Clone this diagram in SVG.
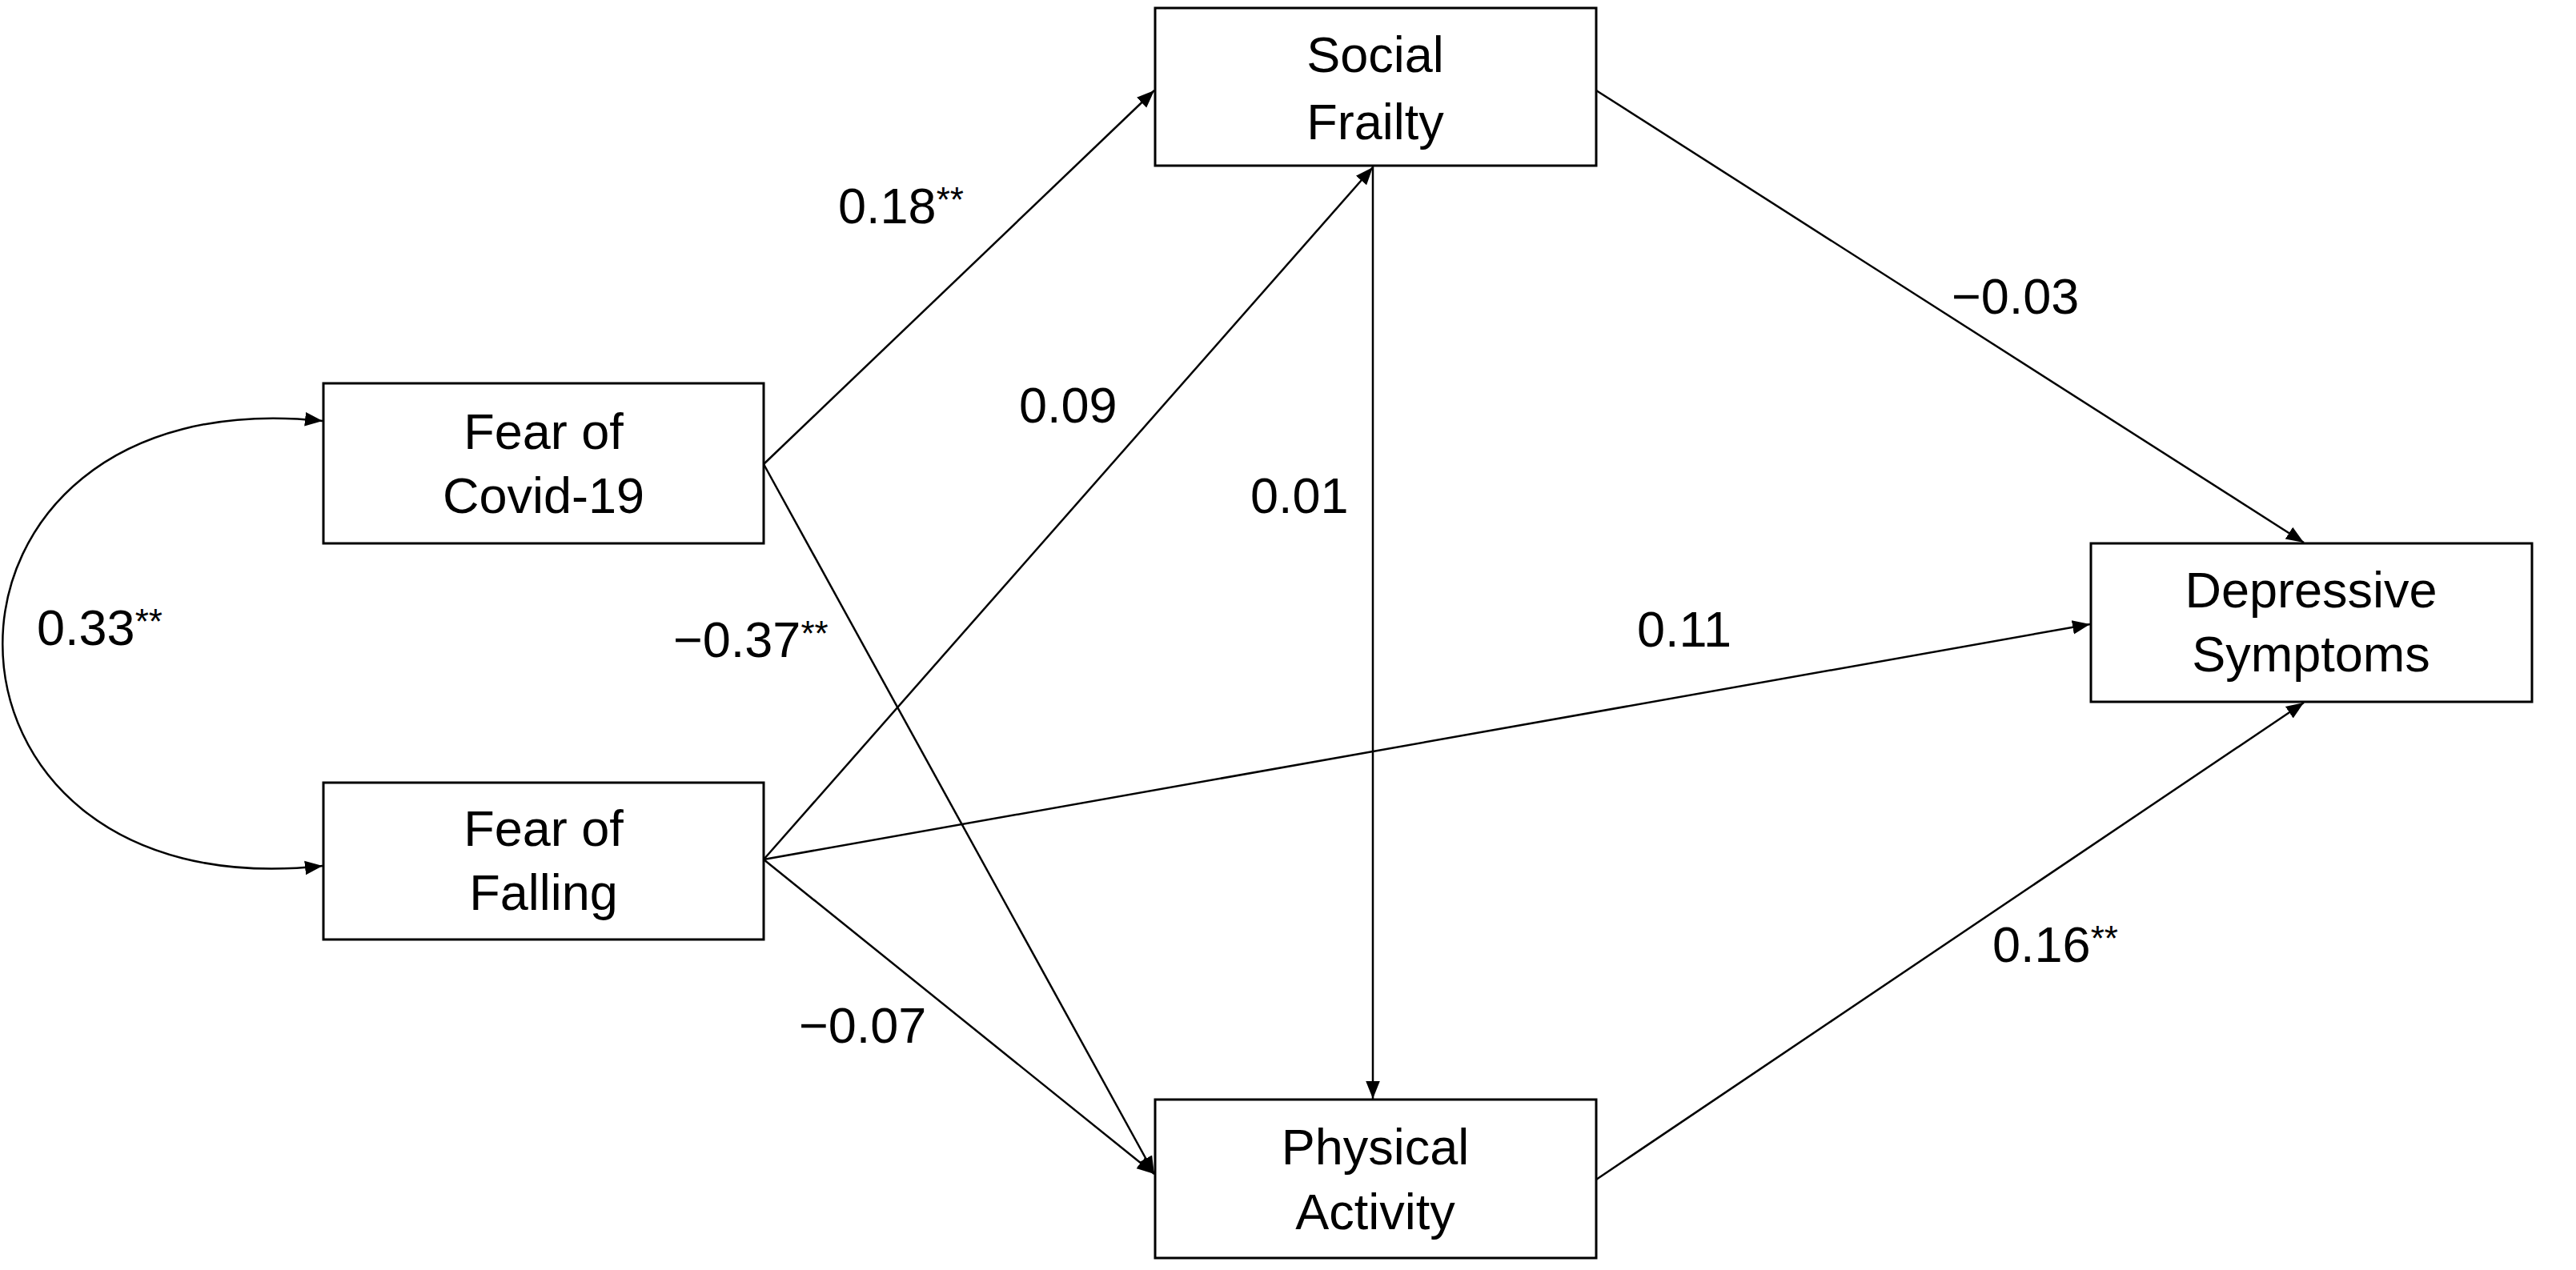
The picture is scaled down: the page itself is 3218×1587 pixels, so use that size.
<svg xmlns="http://www.w3.org/2000/svg" width="3218" height="1587" viewBox="0 0 3218 1587">
<style>
.box{fill:#fff;stroke:#000;stroke-width:3}
.t{font-family:"Liberation Sans",Arial,sans-serif;font-size:63px;fill:#000;text-anchor:middle}
.l{font-family:"Liberation Sans",Arial,sans-serif;font-size:63px;fill:#000}
.s{font-size:44px}
.c{fill:none;stroke:#000;stroke-width:2.5}
</style>
<defs>
<marker id="b" viewBox="0 0 10 10" refX="10" refY="5" markerWidth="22" markerHeight="22" markerUnits="userSpaceOnUse" orient="auto-start-reverse"><path d="M0,1 L10,5 L0,9 z" fill="#000"/></marker></defs>
<rect width="3218" height="1587" fill="#fff"/>
<g id="connectors">
<path class="c" marker-end="url(#b)" d="M954,580 L1442,113"/>
<path class="c" marker-end="url(#b)" d="M954,580 L1442,1467"/>
<path class="c" marker-end="url(#b)" d="M954,1074 L1715,209"/>
<path class="c" marker-end="url(#b)" d="M954,1074 L2611,780"/>
<path class="c" marker-end="url(#b)" d="M954,1074 L1442,1467"/>
<path class="c" marker-end="url(#b)" d="M1715,208 L1715,1373"/>
<path class="c" marker-end="url(#b)" d="M1994,113 L2878,678"/>
<path class="c" marker-end="url(#b)" d="M1994,1474 L2878,878"/>
<path class="c" marker-start="url(#b)" marker-end="url(#b)" d="M403,526 C-130,470 -130,1140 403,1082"/>
</g>
<g id="n1"><rect class="box" x="404" y="479" width="550" height="200"/><text class="t" x="679" y="561">Fear of</text><text class="t" x="679" y="641">Covid-19</text></g>
<g id="n2"><rect class="box" x="404" y="978" width="550" height="196"/><text class="t" x="679" y="1057">Fear of</text><text class="t" x="679" y="1137">Falling</text></g>
<g id="n3"><rect class="box" x="1443" y="10" width="551" height="197"/><text class="t" x="1718" y="90">Social</text><text class="t" x="1718" y="174">Frailty</text></g>
<g id="n4"><rect class="box" x="1443" y="1374" width="551" height="198"/><text class="t" x="1718" y="1455">Physical</text><text class="t" x="1718" y="1536">Activity</text></g>
<g id="n5"><rect class="box" x="2612" y="679" width="551" height="198"/><text class="t" x="2887" y="759">Depressive</text><text class="t" x="2887" y="839">Symptoms</text></g>
<g id="labels">
<text class="l" x="1047" y="279">0.18<tspan class="s" dy="-14">**</tspan></text>
<text class="l" x="1273" y="528">0.09</text>
<text class="l" x="1562" y="641">0.01</text>
<text class="l" x="841" y="821">−0.37<tspan class="s" dy="-14">**</tspan></text>
<text class="l" x="46" y="806">0.33<tspan class="s" dy="-14">**</tspan></text>
<text class="l" x="998" y="1303">−0.07</text>
<text class="l" x="2438" y="392">−0.03</text>
<text class="l" x="2045" y="808">0.11</text>
<text class="l" x="2489" y="1202">0.16<tspan class="s" dy="-14">**</tspan></text>
</g>
</svg>
